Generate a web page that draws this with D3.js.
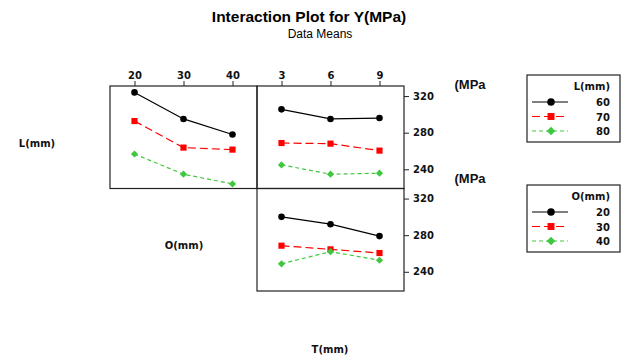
<!DOCTYPE html>
<html><head><meta charset="utf-8">
<script src="https://cdn.jsdelivr.net/npm/d3@7"></script>
<style>body{margin:0;background:#fff}</style>
</head><body>
<script>
const levelsL = [60, 70, 80];
const levelsO = [20, 30, 40];
const levelsT = [3, 6, 9];
// Panel: x = O, lines = L
const meanL_byO = {60: [324, 295, 278], 70: [292.7, 263.7, 261.5], 80: [256.7, 234.6, 224]};
// Panel: x = T, lines = L
const meanL_byT = {60: [305.5, 295, 296], 70: [268.7, 268, 260.4], 80: [244.8, 234.6, 235.7]};
// Panel: x = T, lines = O
const meanO_byT = {20: [300, 292, 279], 30: [268.5, 264.5, 260.5], 40: [248.7, 262, 252.6]};
const yTicks = [240, 280, 320];

const W = 623, H = 359;
const svg = d3.select("body").append("svg").attr("width", W).attr("height", H);
const font = "DejaVu Sans, Verdana, sans-serif";

const styles = [
  {color: "#000000", dash: null, shape: d3.symbolCircle, size: 34, rot: 0},
  {color: "#ff0000", dash: "8,4", shape: d3.symbolSquare, size: 38, rot: 0},
  {color: "#3fc83f", dash: "4,3", shape: d3.symbolSquare, size: 26, rot: 45}
];

svg.append("text").attr("x", 309).attr("y", 22).attr("text-anchor", "middle")
  .attr("font-family", "Liberation Sans, Arial, sans-serif").attr("font-weight", "bold").attr("font-size", 15.5)
  .text("Interaction Plot for Y(MPa)");
svg.append("text").attr("x", 320).attr("y", 38).attr("text-anchor", "middle")
  .attr("font-family", "Liberation Sans, Arial, sans-serif").attr("font-size", 12)
  .text("Data Means");

const colX = [110, 257], colW = 147;
const rowY = [86, 188.5], rowH = 102.5;

function marker(sel, st, extra, x, y) {
  sel.append("path").attr("d", d3.symbol().type(st.shape).size(st.size + extra)())
    .attr("transform", `translate(${x},${y}) rotate(${st.rot})`).attr("fill", st.color);
}

function panel(col, row, xLevels, data, groups, showX, showY) {
  const x = d3.scalePoint().domain(xLevels).range([colX[col], colX[col] + colW]).padding(0.5);
  const y = d3.scaleLinear().domain([219, 331]).range([rowY[row] + rowH, rowY[row]]);
  svg.append("rect").attr("x", colX[col]).attr("y", rowY[row]).attr("width", colW).attr("height", rowH)
    .attr("fill", "none").attr("stroke", "#222").attr("stroke-width", 1.2);
  if (showX) {
    const g = svg.append("g").attr("transform", `translate(0,${rowY[row]})`)
      .call(d3.axisTop(x).tickSize(5).tickPadding(2));
    g.select(".domain").remove();
    g.selectAll("line").attr("stroke", "#222");
    g.selectAll("text").attr("font-family", font).attr("font-weight", "bold").attr("font-size", 10).attr("fill", "#111");
  }
  if (showY) {
    const g = svg.append("g").attr("transform", `translate(${colX[col] + colW},0)`)
      .call(d3.axisRight(y).tickValues(yTicks).tickSize(5).tickPadding(4));
    g.select(".domain").remove();
    g.selectAll("line").attr("stroke", "#222");
    g.selectAll("text").attr("font-family", font).attr("font-weight", "bold").attr("font-size", 10).attr("fill", "#111");
  }
  groups.forEach((gk, i) => {
    const st = styles[i];
    const pts = xLevels.map((lv, j) => [x(lv), y(data[gk][j])]);
    svg.append("path").attr("d", d3.line()(pts)).attr("fill", "none")
      .attr("stroke", st.color).attr("stroke-width", 1.2).attr("stroke-dasharray", st.dash);
    pts.forEach(p => marker(svg, st, 0, p[0], p[1]));
  });
}

panel(0, 0, levelsO, meanL_byO, levelsL, true, false);
panel(1, 0, levelsT, meanL_byT, levelsL, true, true);
panel(1, 1, levelsT, meanO_byT, levelsO, false, true);

function label(x, y, t, size, fam) {
  svg.append("text").attr("x", x).attr("y", y).attr("text-anchor", "middle")
    .attr("font-family", fam || font).attr("font-weight", "bold").attr("font-size", size || 10).attr("fill", "#111").text(t);
}
label(37, 147, "L(mm)");
label(184, 249, "O(mm)");
label(330, 353, "T(mm)");
label(470, 89, "(MPa", 13, "Liberation Sans, Arial, sans-serif");
label(470, 183, "(MPa", 13, "Liberation Sans, Arial, sans-serif");

function legend(y0, title, levels) {
  const g = svg.append("g");
  g.append("rect").attr("x", 527).attr("y", y0).attr("width", 93).attr("height", 67)
    .attr("fill", "none").attr("stroke", "#222").attr("stroke-width", 1.2);
  g.append("text").attr("x", 610).attr("y", y0 + 15).attr("text-anchor", "end")
    .attr("font-family", font).attr("font-weight", "bold").attr("font-size", 10).attr("fill", "#111").text(title);
  levels.forEach((lv, i) => {
    const st = styles[i];
    const yy = y0 + 27 + i * 14.5;
    g.append("line").attr("x1", 532).attr("x2", 568).attr("y1", yy).attr("y2", yy)
      .attr("stroke", st.color).attr("stroke-width", 1.2).attr("stroke-dasharray", st.dash);
    marker(g, st, 10, 551, yy);
    g.append("text").attr("x", 610).attr("y", yy + 4).attr("text-anchor", "end")
      .attr("font-family", font).attr("font-weight", "bold").attr("font-size", 10).attr("fill", "#111").text(lv);
  });
}
legend(75, "L(mm)", levelsL);
legend(185, "O(mm)", levelsO);
</script>
</body></html>
